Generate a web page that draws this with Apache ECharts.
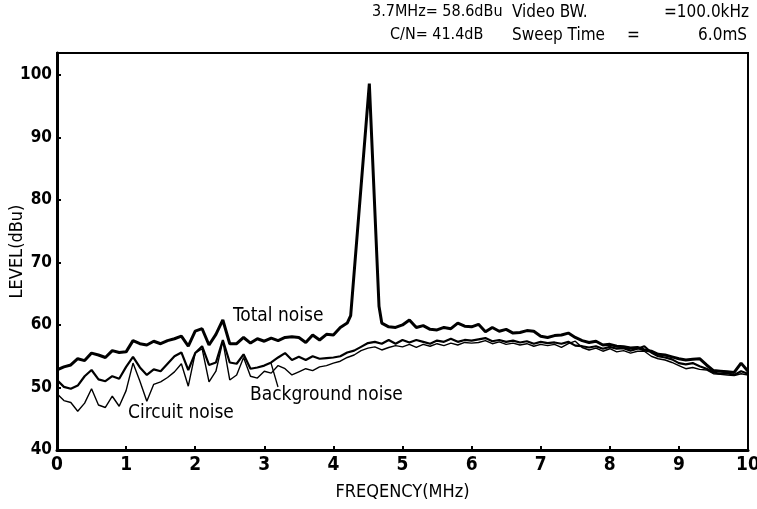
<!DOCTYPE html>
<html lang="en">
<head>
  <meta charset="UTF-8">
  <title>Noise spectrum</title>
  <script src="https://cdn.jsdelivr.net/npm/echarts@6.0.0/dist/echarts.min.js"></script>
  <style>
    body { margin: 0; background: #fff; }
    #chart { width: 757px; height: 509px; }
  </style>
</head>
<body>
  <div id="chart"></div>
  <script>
    // frequency grid (MHz), 0.1 MHz steps
    var freq = [];
    for (var i = 0; i <= 100; i++) freq.push(+(i / 10).toFixed(1));

    // total noise has a few extra points around the 4.5 MHz carrier
    var totalFreq = [0,0.1,0.2,0.3,0.4,0.5,0.6,0.7,0.8,0.9,1.0,1.1,1.2,1.3,1.4,1.5,1.6,1.7,1.8,1.9,
      2.0,2.1,2.2,2.3,2.4,2.5,2.6,2.7,2.8,2.9,3.0,3.1,3.2,3.3,3.4,3.5,3.6,3.7,3.8,3.9,
      4.0,4.1,4.2,4.25,4.52,4.66,4.7,4.8,4.9,5.0,5.1,5.2,5.3,5.4,5.5,5.6,5.7,5.8,5.9,
      6.0,6.1,6.2,6.3,6.4,6.5,6.6,6.7,6.8,6.9,7.0,7.1,7.2,7.3,7.4,7.5,7.6,7.7,7.8,7.9,
      8.0,8.1,8.2,8.3,8.4,8.5,8.6,8.7,8.8,8.9,9.0,9.1,9.2,9.3,9.4,9.5,9.6,9.7,9.8,9.9,10.0];
    var totalNoise = [52.8,53.3,53.6,54.6,54.3,55.5,55.2,54.8,55.9,55.6,55.7,57.5,57.0,56.8,57.4,57.0,57.5,57.8,58.2,56.6,
      59.0,59.4,56.8,58.5,60.8,57.0,57.0,58.0,57.1,57.8,57.4,57.9,57.5,58.0,58.1,58.0,57.2,58.4,57.6,58.5,
      58.4,59.6,60.3,61.5,98.6,63.0,60.3,59.7,59.6,60.0,60.8,59.6,59.9,59.3,59.2,59.6,59.4,60.3,59.8,
      59.7,60.1,58.9,59.6,59.0,59.3,58.7,58.8,59.1,59.0,58.2,58.0,58.3,58.4,58.7,58.0,57.5,57.2,57.4,56.8,
      56.9,56.6,56.5,56.3,56.4,56.0,55.8,55.3,55.2,54.9,54.6,54.4,54.5,54.6,53.6,52.7,52.6,52.5,52.4,53.9,52.6];

    var backgroundNoise = [51.2,50.1,49.8,50.3,51.8,52.8,51.3,51.0,51.8,51.4,53.3,54.9,53.2,52.0,52.9,52.6,53.8,55.0,55.6,52.8,
      55.5,56.6,53.6,54.0,57.6,54.0,53.8,55.3,53.0,53.2,53.5,54.0,54.8,55.5,54.4,54.9,54.4,55.0,54.6,54.7,
      54.8,55.0,55.6,55.9,56.5,57.1,57.3,57.0,57.6,57.0,57.6,57.2,57.6,57.3,57.0,57.5,57.3,57.8,57.3,57.6,
      57.5,57.7,57.9,57.4,57.6,57.3,57.5,57.2,57.4,57.0,57.3,57.1,57.2,57.0,57.3,56.7,56.6,56.4,56.6,56.2,
      56.5,56.2,56.3,55.9,56.2,56.6,55.6,55.0,54.8,54.5,53.9,53.7,53.9,53.4,53.0,52.4,52.2,52.3,52.0,52.6,52.2];

    var circuitNoise = [49.0,47.9,47.6,46.2,47.5,49.8,47.2,46.8,48.6,47.0,49.5,53.9,51.0,47.8,50.5,50.9,51.6,52.5,53.8,50.2,
      55.5,56.2,50.9,52.6,57.4,51.2,52.0,54.8,51.8,51.5,52.6,52.3,53.5,53.0,52.0,52.5,53.0,52.7,53.3,53.5,
      53.9,54.2,54.8,55.2,55.9,56.3,56.5,56.0,56.4,56.7,56.5,56.9,56.4,56.9,56.6,57.0,56.7,57.1,56.8,57.2,
      57.1,57.2,57.5,57.0,57.3,56.9,57.1,56.8,57.0,56.6,56.9,56.7,56.9,56.4,57.0,57.4,56.4,56.0,56.3,55.8,
      56.2,55.7,55.9,55.5,55.8,55.8,55.0,54.6,54.4,54.0,53.5,53.0,53.2,52.9,52.8,52.2,52.1,52.0,51.9,52.2,52.0];

    var headerLines = [
      ['3.7MHz= 58.6dBu', 'Video BW.', '=100.0kHz'],
      ['C/N= 41.4dB', 'Sweep Time', '=', '6.0mS']
    ];

    function pairs(xs, ys) {
      return xs.map(function (x, k) { return [x, ys[k]]; });
    }

    var font = '"Liberation Sans Narrow", "DejaVu Sans Condensed", "Liberation Sans", Arial, sans-serif';

    var chart = echarts.init(document.getElementById('chart'));

    function txt(x, y, s, size) {
      return { type: 'text', left: x, top: y, style: { text: s, font: size + 'px ' + font, fill: '#000' } };
    }
    function txtR(r, y, s, size) {
      return { type: 'text', right: r, top: y, style: { text: s, font: size + 'px ' + font, fill: '#000' } };
    }

    var option = {
      animation: false,
      backgroundColor: '#fff',
      grid: {
        left: 57, right: 9, top: 53, bottom: 59,
        outerBoundsMode: 'none',
        show: true, borderColor: '#000', borderWidth: 2
      },
      xAxis: {
        type: 'value', min: 0, max: 10, interval: 1,
        name: 'FREQENCY(MHz)', nameLocation: 'middle', nameGap: 33,
        nameMoveOverlap: false,
        nameTextStyle: { fontFamily: font, fontSize: 18, color: '#000' },
        axisLine: { lineStyle: { color: '#000', width: 3 } },
        axisTick: { inside: true, length: 4, lineStyle: { color: '#000', width: 2 } },
        axisLabel: { fontFamily: font, fontSize: 19, fontWeight: 'bold', color: '#000', margin: 6 },
        splitLine: { show: false }
      },
      yAxis: {
        type: 'value', min: 40, max: 103.5, interval: 10,
        name: 'LEVEL(dBu)', nameLocation: 'middle', nameGap: 31,
        nameMoveOverlap: false,
        nameTextStyle: { fontFamily: font, fontSize: 18, color: '#000' },
        axisLine: { show: true, lineStyle: { color: '#000', width: 3 } },
        axisTick: { show: true, inside: true, length: 4, lineStyle: { color: '#000', width: 2 } },
        axisLabel: {
          fontFamily: font, fontSize: 17, fontWeight: 'bold', color: '#000', margin: 5,
          showMaxLabel: false,
          formatter: function (v) { return v % 10 === 0 ? String(v) : ''; }
        },
        splitLine: { show: false }
      },
      series: [
        {
          name: 'Total noise', type: 'line', symbol: 'none',
          data: pairs(totalFreq, totalNoise),
          lineStyle: { color: '#000', width: 3 }, z: 4
        },
        {
          name: 'Background noise', type: 'line', symbol: 'none',
          data: pairs(freq, backgroundNoise),
          lineStyle: { color: '#000', width: 2.2 }, z: 3
        },
        {
          name: 'Circuit noise', type: 'line', symbol: 'none',
          data: pairs(freq, circuitNoise),
          lineStyle: { color: '#000', width: 1.4 }, z: 2
        }
      ],
      graphic: [
        txt(372, 4, headerLines[0][0], 16),
        txt(512, 4, headerLines[0][1], 17),
        txtR(8, 4, headerLines[0][2], 17),
        txt(390, 27, headerLines[1][0], 16),
        txt(512, 27, headerLines[1][1], 17),
        txt(627, 27, headerLines[1][2], 17),
        txtR(10, 27, headerLines[1][3], 17),
        txt(233, 307, 'Total noise', 19),
        txt(250, 386, 'Background noise', 19),
        txt(128, 404, 'Circuit noise', 19),
        { type: 'line', shape: { x1: 271, y1: 363, x2: 278, y2: 387 }, style: { stroke: '#000', lineWidth: 1.3 } }
      ]
    };

    chart.setOption(option);
  </script>
</body>
</html>
